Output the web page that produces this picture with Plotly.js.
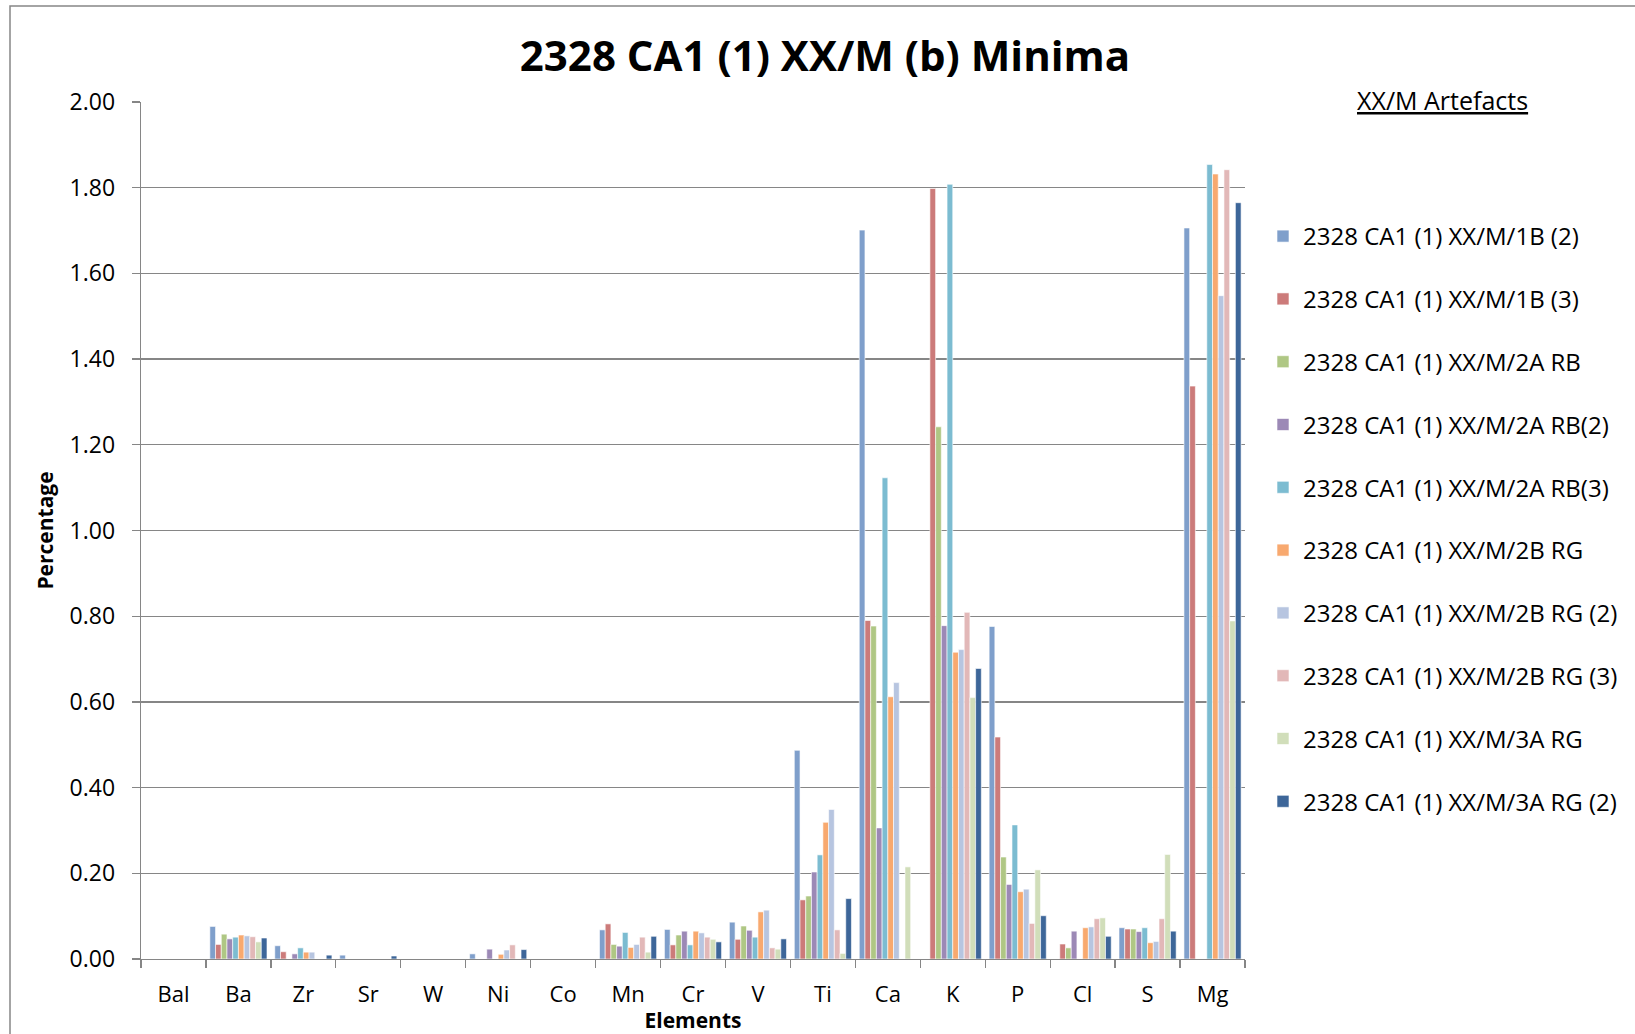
<!DOCTYPE html>
<html>
<head>
<meta charset="utf-8">
<script src="https://cdn.plot.ly/plotly-3.0.1.min.js"></script>
<style>
  html, body { margin: 0; padding: 0; background: #ffffff; }
  #chart { width: 1635px; height: 1034px; }
</style>
</head>
<body>
<div id="chart"></div>
<script>
// ---- data ----
const categories = ["Bal", "Ba", "Zr", "Sr", "W", "Ni", "Co", "Mn", "Cr", "V", "Ti", "Ca", "K", "P", "Cl", "S", "Mg"];

const seriesNames = [
  "2328 CA1 (1) XX/M/1B (2)",
  "2328 CA1 (1) XX/M/1B (3)",
  "2328 CA1 (1) XX/M/2A RB",
  "2328 CA1 (1) XX/M/2A RB(2)",
  "2328 CA1 (1) XX/M/2A RB(3)",
  "2328 CA1 (1) XX/M/2B RG",
  "2328 CA1 (1) XX/M/2B RG (2)",
  "2328 CA1 (1) XX/M/2B RG (3)",
  "2328 CA1 (1) XX/M/3A RG",
  "2328 CA1 (1) XX/M/3A RG (2)"
];

const s1B2  = [null, 0.076, 0.031, 0.009, null, 0.012, null, 0.068, 0.069, 0.086, 0.487, 1.701, null, 0.776, null, 0.073, 1.706];
const s1B3  = [null, 0.034, 0.017, null, null, null, null, 0.082, 0.033, 0.046, 0.138, 0.790, 1.798, 0.518, 0.035, 0.070, 1.337];
const s2ARB = [null, 0.058, null, null, null, null, null, 0.034, 0.056, 0.077, 0.147, 0.777, 1.242, 0.238, 0.026, 0.070, null];
const s2ARB2 = [null, 0.047, 0.012, null, null, 0.023, null, 0.030, 0.065, 0.067, 0.203, 0.306, 0.778, 0.174, 0.065, 0.064, null];
const s2ARB3 = [null, 0.051, 0.026, null, null, null, null, 0.062, 0.033, 0.051, 0.243, 1.123, 1.808, 0.313, null, 0.073, 1.854];
const s2BRG = [null, 0.056, 0.016, null, null, 0.011, null, 0.027, 0.065, 0.110, 0.319, 0.612, 0.716, 0.157, 0.073, 0.038, 1.832];
const s2BRG2 = [null, 0.054, 0.016, null, null, 0.021, null, 0.034, 0.061, 0.114, 0.349, 0.645, 0.722, 0.163, 0.075, 0.041, 1.548];
const s2BRG3 = [null, 0.052, null, null, null, 0.033, null, 0.051, 0.051, 0.026, 0.068, null, 0.809, 0.083, 0.094, 0.094, 1.842];
const s3ARG = [null, 0.040, null, null, null, null, null, 0.016, 0.046, 0.023, 0.013, 0.215, 0.610, 0.208, 0.096, 0.244, 0.789];
const s3ARG2 = [null, 0.049, 0.009, 0.007, null, 0.022, null, 0.053, 0.040, 0.047, 0.141, null, 0.678, 0.101, 0.053, 0.065, 1.765];

const seriesValues = [s1B2, s1B3, s2ARB, s2ARB2, s2ARB3, s2BRG, s2BRG2, s2BRG3, s3ARG, s3ARG2];

const colors = ["#7F9FCB", "#CC7B7A", "#AFC784", "#9C89B6", "#7CBCD1", "#F8A96F", "#B7C5E0", "#E2B8B8", "#D1DEBA", "#3D6699"];

const yTicks = [0, 0.2, 0.4, 0.6, 0.8, 1.0, 1.2, 1.4, 1.6, 1.8, 2.0];

// ---- layout geometry (pixels) ----
const W = 1635, H = 1034;
const plotL = 141, plotR = 1245, plotT = 102, plotB = 959;
const pw = plotR - plotL, ph = plotB - plotT;
const px = v => (v - plotL) / pw;
const py = v => (plotB - v) / ph;

const FONT = "Open Sans, Noto Sans, DejaVu Sans, sans-serif";

const traces = seriesNames.map((name, i) => ({
  type: "bar",
  name: name,
  x: categories,
  y: seriesValues[i],
  legendgroup: "g" + i,
  marker: { color: colors[i], line: { color: "#ffffff", width: 0.6 } },
  hoverinfo: "x+y+name"
}));

const layout = {
  width: W,
  height: H,
  paper_bgcolor: "#ffffff",
  plot_bgcolor: "#ffffff",
  margin: { l: plotL, r: W - plotR, t: plotT, b: H - plotB, pad: 0 },
  barmode: "group",
  bargap: 0.12,
  bargroupgap: 0,
  font: { family: FONT, color: "#000000", size: 22 },
  title: {
    text: "<b>2328 CA1 (1) XX/M (b) Minima</b>",
    font: { family: FONT, size: 42, color: "#000000" },
    x: px(825), xref: "paper", xanchor: "center",
    y: 1 - 56 / H, yref: "container", yanchor: "middle"
  },
  xaxis: {
    type: "category",
    range: [-0.5, categories.length - 0.5],
    tickson: "boundaries",
    ticks: "outside",
    ticklen: 8,
    tickwidth: 1.3,
    tickcolor: "#868686",
    showline: true,
    linecolor: "#868686",
    linewidth: 1.3,
    showgrid: false,
    zeroline: false,
    tickfont: { family: FONT, size: 22, color: "#000000" },
    ticklabelstandoff: 15,
    title: {
      text: "<b>Elements</b>",
      font: { family: FONT, size: 21, color: "#000000" },
      standoff: 0
    },
    fixedrange: true
  },
  yaxis: {
    range: [0, 2.0],
    tickvals: yTicks,
    tickformat: ".2f",
    ticks: "outside",
    ticklen: 8,
    tickwidth: 1.3,
    tickcolor: "#868686",
    showline: true,
    linecolor: "#868686",
    linewidth: 1.3,
    showgrid: true,
    gridcolor: "#868686",
    gridwidth: 1.4,
    zeroline: false,
    tickfont: { family: FONT, size: 23, color: "#000000" },
    ticklabelstandoff: 12,
    title: {
      text: "<b>Percentage</b>",
      font: { family: FONT, size: 21, color: "#000000" },
      standoff: 10
    },
    fixedrange: true
  },
  showlegend: true,
  legend: {
    x: px(1263), xanchor: "left",
    y: py(214), yanchor: "top",
    traceorder: "grouped",
    tracegroupgap: 28.6,
    font: { family: FONT, size: 24, color: "#000000" },
    bgcolor: "rgba(0,0,0,0)",
    borderwidth: 0,
    itemclick: false,
    itemdoubleclick: false
  },
  annotations: [{
    text: "<u>XX/M Artefacts</u>",
    xref: "paper", yref: "paper",
    x: px(1442), y: py(100),
    xanchor: "center", yanchor: "middle",
    showarrow: false,
    font: { family: FONT, size: 25, color: "#000000" }
  }],
  shapes: [{
    type: "rect", xref: "paper", yref: "paper", layer: "below",
    x0: px(10), x1: px(1660), y0: py(1060), y1: py(6),
    line: { color: "#868686", width: 1.5 },
    fillcolor: "rgba(0,0,0,0)"
  }]
};

Plotly.newPlot("chart", traces, layout, { staticPlot: true, displayModeBar: false });
</script>
</body>
</html>
